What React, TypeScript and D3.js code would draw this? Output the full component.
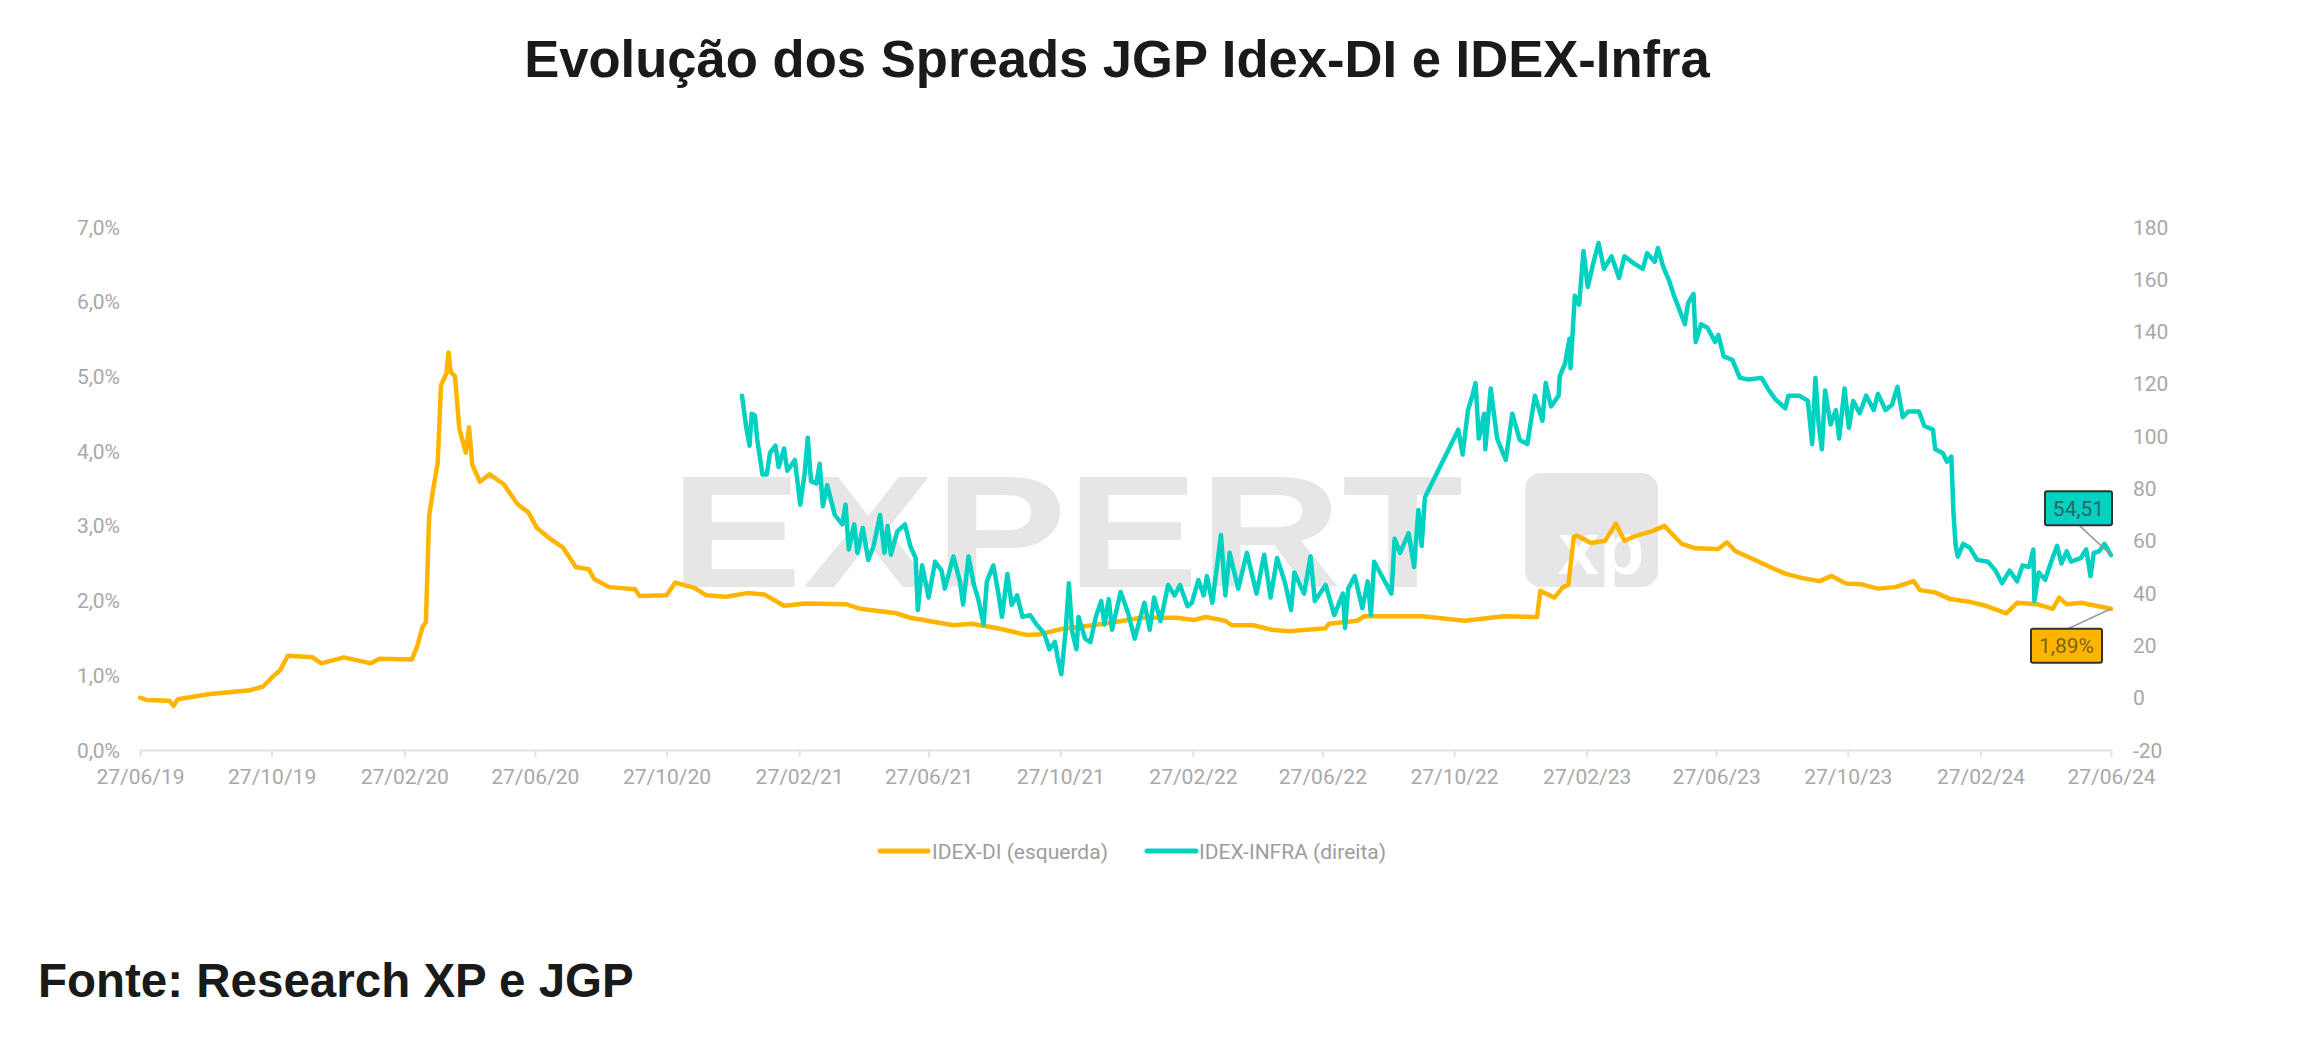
import React, { useEffect, useRef } from "react";
import * as d3 from "d3";

const W = 2302;
const H = 1038;

const titleText = "Evolução dos Spreads JGP Idex-DI e IDEX-Infra";
const sourceText = "Fonte: Research XP e JGP";
const seriesNames = ["IDEX-DI (esquerda)", "IDEX-INFRA (direita)"];
const seriesColors = ["#FFB500", "#00D1C1"];

const xTickDates = [
  "2019-06-27", "2019-10-27", "2020-02-27", "2020-06-27", "2020-10-27", "2021-02-27",
  "2021-06-27", "2021-10-27", "2022-02-27", "2022-06-27", "2022-10-27", "2023-02-27",
  "2023-06-27", "2023-10-27", "2024-02-27", "2024-06-27",
];
const leftTicks = [0, 1, 2, 3, 4, 5, 6, 7];
const rightTicks = [-20, 0, 20, 40, 60, 80, 100, 120, 140, 160, 180];

const idexDiData: [string, number][] = [
  ["2019-06-27", 0.70], ["2019-07-03", 0.67], ["2019-07-24", 0.66], ["2019-07-28", 0.59], ["2019-08-01", 0.68],
  ["2019-08-31", 0.75], ["2019-10-07", 0.80], ["2019-10-19", 0.85], ["2019-10-28", 0.98], ["2019-11-04", 1.07],
  ["2019-11-11", 1.26], ["2019-12-04", 1.24], ["2019-12-12", 1.16], ["2020-01-02", 1.24], ["2020-01-27", 1.16],
  ["2020-02-04", 1.22], ["2020-03-05", 1.21], ["2020-03-10", 1.39], ["2020-03-15", 1.65], ["2020-03-18", 1.71],
  ["2020-03-21", 3.13], ["2020-03-25", 3.51], ["2020-03-29", 3.85], ["2020-04-01", 4.88], ["2020-04-06", 5.04],
  ["2020-04-08", 5.32], ["2020-04-10", 5.06], ["2020-04-14", 5.00], ["2020-04-18", 4.30], ["2020-04-24", 3.98],
  ["2020-04-27", 4.32], ["2020-04-30", 3.82], ["2020-05-07", 3.59], ["2020-05-16", 3.69], ["2020-05-29", 3.56],
  ["2020-06-11", 3.29], ["2020-06-21", 3.18], ["2020-06-29", 2.97], ["2020-07-10", 2.84], ["2020-07-23", 2.71],
  ["2020-08-04", 2.45], ["2020-08-16", 2.42], ["2020-08-21", 2.29], ["2020-09-04", 2.18], ["2020-09-28", 2.15],
  ["2020-10-02", 2.06], ["2020-10-27", 2.07], ["2020-11-04", 2.24], ["2020-11-22", 2.17], ["2020-12-03", 2.07],
  ["2020-12-21", 2.05], ["2021-01-10", 2.10], ["2021-01-26", 2.08], ["2021-02-13", 1.93], ["2021-03-05", 1.96],
  ["2021-04-12", 1.95], ["2021-04-25", 1.89], ["2021-05-28", 1.83], ["2021-06-10", 1.77], ["2021-07-20", 1.67],
  ["2021-08-06", 1.69], ["2021-08-30", 1.63], ["2021-09-26", 1.54], ["2021-10-09", 1.55], ["2021-10-28", 1.62],
  ["2021-12-07", 1.69], ["2022-01-10", 1.77], ["2022-02-12", 1.77], ["2022-02-28", 1.74], ["2022-03-11", 1.78],
  ["2022-03-29", 1.73], ["2022-04-04", 1.67], ["2022-04-24", 1.67], ["2022-05-11", 1.61], ["2022-05-27", 1.59],
  ["2022-06-30", 1.63], ["2022-07-03", 1.69], ["2022-07-29", 1.73], ["2022-08-05", 1.79], ["2022-09-28", 1.79],
  ["2022-11-06", 1.73], ["2022-12-12", 1.79], ["2023-01-12", 1.78], ["2023-01-15", 2.13], ["2023-01-28", 2.04],
  ["2023-02-05", 2.18], ["2023-02-10", 2.21], ["2023-02-15", 2.85], ["2023-02-18", 2.87], ["2023-03-03", 2.77],
  ["2023-03-16", 2.80], ["2023-03-26", 3.03], ["2023-04-03", 2.80], ["2023-04-14", 2.87], ["2023-04-29", 2.93],
  ["2023-05-10", 3.00], ["2023-05-26", 2.76], ["2023-06-08", 2.70], ["2023-06-29", 2.69], ["2023-07-07", 2.78],
  ["2023-07-15", 2.66], ["2023-07-29", 2.57], ["2023-08-16", 2.45], ["2023-08-30", 2.36], ["2023-09-15", 2.30],
  ["2023-10-01", 2.26], ["2023-10-12", 2.33], ["2023-10-25", 2.23], ["2023-11-08", 2.22], ["2023-11-24", 2.16],
  ["2023-12-10", 2.18], ["2023-12-27", 2.26], ["2024-01-02", 2.14], ["2024-01-16", 2.11], ["2024-01-30", 2.02],
  ["2024-02-18", 1.98], ["2024-03-03", 1.93], ["2024-03-22", 1.83], ["2024-04-01", 1.97], ["2024-04-20", 1.95],
  ["2024-05-04", 1.89], ["2024-05-10", 2.04], ["2024-05-17", 1.95], ["2024-05-30", 1.97], ["2024-06-13", 1.93],
  ["2024-06-27", 1.89],
];

const idexInfraData: [string, number][] = [
  ["2021-01-05", 115.5], ["2021-01-09", 103.2], ["2021-01-12", 96.4], ["2021-01-14", 108.6], ["2021-01-17", 107.9],
  ["2021-01-19", 99.1], ["2021-01-24", 85.4], ["2021-01-28", 85.4], ["2021-01-31", 93.6], ["2021-02-05", 96.4],
  ["2021-02-08", 88.2], ["2021-02-13", 95.3], ["2021-02-16", 86.8], ["2021-02-23", 90.9], ["2021-02-28", 73.8],
  ["2021-03-04", 85.4], ["2021-03-07", 99.4], ["2021-03-10", 82.7], ["2021-03-15", 82.0], ["2021-03-18", 89.5],
  ["2021-03-21", 73.2], ["2021-03-25", 81.3], ["2021-04-01", 69.9], ["2021-04-08", 66.3], ["2021-04-11", 73.8],
  ["2021-04-14", 56.7], ["2021-04-19", 66.3], ["2021-04-22", 55.4], ["2021-04-27", 64.9], ["2021-05-02", 52.7],
  ["2021-05-07", 58.0], ["2021-05-13", 69.9], ["2021-05-17", 55.4], ["2021-05-20", 65.7], ["2021-05-23", 54.7],
  ["2021-05-29", 63.6], ["2021-06-05", 66.3], ["2021-06-10", 58.0], ["2021-06-15", 53.4], ["2021-06-17", 33.5],
  ["2021-06-21", 50.6], ["2021-06-27", 38.3], ["2021-07-03", 52.0], ["2021-07-09", 48.6], ["2021-07-12", 41.7],
  ["2021-07-20", 54.0], ["2021-07-26", 44.5], ["2021-07-29", 35.6], ["2021-08-03", 54.0], ["2021-08-08", 43.1],
  ["2021-08-12", 37.7], ["2021-08-17", 28.0], ["2021-08-20", 44.5], ["2021-08-26", 50.6], ["2021-08-31", 39.1],
  ["2021-09-03", 30.9], ["2021-09-08", 47.3], ["2021-09-12", 35.5], ["2021-09-17", 39.1], ["2021-09-22", 30.9],
  ["2021-09-29", 31.6], ["2021-10-05", 28.0], ["2021-10-12", 24.7], ["2021-10-17", 18.5], ["2021-10-22", 21.3],
  ["2021-10-25", 14.4], ["2021-10-28", 9.0], ["2021-11-01", 25.4], ["2021-11-04", 43.8], ["2021-11-07", 25.4],
  ["2021-11-11", 18.5], ["2021-11-13", 30.9], ["2021-11-19", 22.6], ["2021-11-24", 21.3], ["2021-11-29", 30.9],
  ["2021-12-04", 37.0], ["2021-12-07", 28.0], ["2021-12-11", 37.7], ["2021-12-14", 26.0], ["2021-12-22", 40.4],
  ["2021-12-29", 32.3], ["2022-01-04", 22.6], ["2022-01-13", 36.3], ["2022-01-18", 26.0], ["2022-01-22", 38.3],
  ["2022-01-28", 29.3], ["2022-02-04", 43.1], ["2022-02-10", 39.1], ["2022-02-15", 43.1], ["2022-02-22", 35.0],
  ["2022-02-26", 36.3], ["2022-03-04", 45.0], ["2022-03-09", 39.1], ["2022-03-12", 46.5], ["2022-03-17", 36.3],
  ["2022-03-25", 62.2], ["2022-03-29", 39.1], ["2022-04-02", 55.4], ["2022-04-10", 41.7], ["2022-04-18", 55.4],
  ["2022-04-27", 39.8], ["2022-05-04", 54.7], ["2022-05-10", 38.3], ["2022-05-16", 53.4], ["2022-05-23", 44.5],
  ["2022-05-29", 33.5], ["2022-06-01", 47.9], ["2022-06-10", 39.8], ["2022-06-16", 54.0], ["2022-06-20", 37.0],
  ["2022-06-30", 43.1], ["2022-07-08", 31.6], ["2022-07-16", 39.8], ["2022-07-18", 26.7], ["2022-07-21", 41.7],
  ["2022-07-27", 46.5], ["2022-08-03", 34.2], ["2022-08-08", 44.5], ["2022-08-11", 31.6], ["2022-08-14", 52.0],
  ["2022-08-23", 45.1], ["2022-08-30", 39.8], ["2022-09-02", 60.8], ["2022-09-07", 55.4], ["2022-09-15", 62.9],
  ["2022-09-20", 50.0], ["2022-09-24", 71.8], ["2022-09-27", 58.0], ["2022-09-30", 76.6], ["2022-10-31", 102.5],
  ["2022-11-04", 93.0], ["2022-11-09", 110.0], ["2022-11-13", 115.5], ["2022-11-16", 120.3], ["2022-11-19", 99.1],
  ["2022-11-24", 108.6], ["2022-11-25", 95.0], ["2022-11-30", 118.2], ["2022-12-06", 99.1], ["2022-12-14", 90.9],
  ["2022-12-20", 108.6], ["2022-12-27", 98.5], ["2023-01-03", 97.0], ["2023-01-10", 115.5], ["2023-01-17", 105.9],
  ["2023-01-20", 120.3], ["2023-01-25", 111.4], ["2023-02-01", 115.5], ["2023-02-02", 123.0], ["2023-02-07", 127.8],
  ["2023-02-11", 137.3], ["2023-02-12", 126.0], ["2023-02-16", 153.7], ["2023-02-20", 150.3], ["2023-02-24", 170.8],
  ["2023-02-28", 157.1], ["2023-03-05", 166.0], ["2023-03-10", 173.9], ["2023-03-15", 164.0], ["2023-03-22", 168.8],
  ["2023-03-29", 160.5], ["2023-04-03", 168.8], ["2023-04-12", 166.0], ["2023-04-20", 164.0], ["2023-04-24", 170.0],
  ["2023-05-01", 166.7], ["2023-05-04", 172.0], ["2023-05-09", 164.7], ["2023-05-14", 159.9], ["2023-05-19", 153.7],
  ["2023-05-24", 148.3], ["2023-05-29", 142.8], ["2023-06-01", 151.0], ["2023-06-06", 154.4], ["2023-06-08", 136.0],
  ["2023-06-13", 142.8], ["2023-06-19", 141.5], ["2023-06-26", 136.0], ["2023-06-29", 138.7], ["2023-07-04", 130.5],
  ["2023-07-12", 129.2], ["2023-07-19", 122.3], ["2023-07-27", 121.7], ["2023-08-08", 122.3], ["2023-08-15", 117.5],
  ["2023-08-21", 114.1], ["2023-08-30", 110.7], ["2023-09-02", 115.5], ["2023-09-12", 115.5], ["2023-09-20", 113.5],
  ["2023-09-24", 97.0], ["2023-09-27", 122.3], ["2023-09-30", 104.5], ["2023-10-03", 95.0], ["2023-10-06", 117.5],
  ["2023-10-11", 104.5], ["2023-10-16", 110.0], ["2023-10-19", 99.1], ["2023-10-24", 118.2], ["2023-10-28", 103.2],
  ["2023-11-01", 113.5], ["2023-11-07", 108.8], ["2023-11-13", 115.5], ["2023-11-20", 110.0], ["2023-11-24", 116.2],
  ["2023-12-01", 110.0], ["2023-12-07", 112.0], ["2023-12-12", 118.9], ["2023-12-17", 107.3], ["2023-12-22", 109.4],
  ["2024-01-01", 109.4], ["2024-01-06", 103.9], ["2024-01-14", 102.5], ["2024-01-16", 95.0], ["2024-01-23", 93.6],
  ["2024-01-27", 90.2], ["2024-01-31", 92.2], ["2024-02-02", 70.4], ["2024-02-04", 58.1], ["2024-02-06", 54.0],
  ["2024-02-11", 58.8], ["2024-02-17", 57.4], ["2024-02-24", 52.7], ["2024-03-05", 52.0], ["2024-03-12", 48.6],
  ["2024-03-18", 43.8], ["2024-03-25", 48.6], ["2024-04-01", 44.5], ["2024-04-06", 50.6], ["2024-04-12", 50.0],
  ["2024-04-16", 56.7], ["2024-04-17", 37.0], ["2024-04-21", 47.9], ["2024-04-27", 45.1], ["2024-05-02", 51.3],
  ["2024-05-08", 58.1], ["2024-05-12", 51.3], ["2024-05-17", 56.0], ["2024-05-21", 52.0], ["2024-05-30", 53.4],
  ["2024-06-04", 56.7], ["2024-06-08", 46.5], ["2024-06-11", 55.4], ["2024-06-16", 56.0], ["2024-06-21", 58.8],
  ["2024-06-27", 54.51],
];

const parse = d3.timeParse("%Y-%m-%d");
const fmtPt = (v: number, digits: number) => v.toFixed(digits).replace(".", ",");

export default function App() {
  const ref = useRef<SVGSVGElement>(null);

  useEffect(() => {
    document.body.style.margin = "0";
    const svg = d3.select(ref.current as SVGSVGElement);
    svg.selectAll("*").remove();

    const axisFont = "Roboto, 'Noto Sans', sans-serif";
    const headFont = "'Liberation Sans', Arial, Helvetica, sans-serif";

    const x = d3
      .scaleTime()
      .domain([parse(xTickDates[0]) as Date, parse(xTickDates[xTickDates.length - 1]) as Date])
      .range([140, 2111]);
    const yL = d3.scaleLinear().domain([0, 7]).range([750, 227]);
    const yR = d3.scaleLinear().domain([-20, 180]).range([750, 227]);

    svg.append("rect").attr("width", W).attr("height", H).attr("fill", "#ffffff");

    // Title
    svg
      .append("text")
      .attr("x", 1117)
      .attr("y", 77)
      .attr("text-anchor", "middle")
      .attr("font-family", headFont)
      .attr("font-weight", 700)
      .attr("font-size", 52.6)
      .attr("fill", "#1a1a1a")
      .text(titleText);

    // Watermark
    const wm = svg.append("g").attr("class", "watermark");
    wm.append("text")
      .attr("x", 670)
      .attr("y", 587)
      .attr("font-family", headFont)
      .attr("font-weight", 900)
      .attr("font-size", 159)
      .attr("textLength", 793)
      .attr("lengthAdjust", "spacingAndGlyphs")
      .attr("fill", "#e6e6e6")
      .text("EXPERT");
    wm.append("clipPath").attr("id", "xpclip").append("rect")
      .attr("x", 1525).attr("y", 473).attr("width", 133).attr("height", 114).attr("rx", 16);
    wm.append("rect")
      .attr("x", 1525).attr("y", 473).attr("width", 133).attr("height", 114).attr("rx", 16)
      .attr("fill", "#e6e6e6");
    wm.append("text")
      .attr("x", 1558)
      .attr("y", 574)
      .attr("clip-path", "url(#xpclip)")
      .attr("font-family", headFont)
      .attr("font-weight", 700)
      .attr("font-size", 74)
      .attr("fill", "#ffffff")
      .text("xp");

    // X axis
    const xAxis = d3
      .axisBottom(x)
      .tickValues(xTickDates.map((d) => parse(d) as Date))
      .tickFormat((d) => d3.timeFormat("%d/%m/%y")(d as Date))
      .tickSize(7)
      .tickSizeOuter(0)
      .tickPadding(12);
    const gx = svg.append("g").attr("transform", "translate(0,750)").call(xAxis);
    gx.select(".domain").attr("stroke", "#e2e2e2").attr("stroke-width", 2);
    gx.selectAll(".tick line").attr("stroke", "#e2e2e2").attr("stroke-width", 2);
    gx.selectAll(".tick text")
      .attr("font-family", axisFont)
      .attr("font-size", 21)
      .attr("fill", "#a8a8a8");

    // Left axis labels
    svg
      .append("g")
      .selectAll("text")
      .data(leftTicks)
      .join("text")
      .attr("x", 120)
      .attr("y", (d) => yL(d))
      .attr("dy", "0.36em")
      .attr("text-anchor", "end")
      .attr("font-family", axisFont)
      .attr("font-size", 21)
      .attr("fill", "#a8a8a8")
      .text((d) => fmtPt(d, 1) + "%");

    // Right axis labels
    svg
      .append("g")
      .selectAll("text")
      .data(rightTicks)
      .join("text")
      .attr("x", 2133)
      .attr("y", (d) => yR(d))
      .attr("dy", "0.36em")
      .attr("text-anchor", "start")
      .attr("font-family", axisFont)
      .attr("font-size", 21)
      .attr("fill", "#a8a8a8")
      .text((d) => String(d));

    // Lines
    const diPts = idexDiData.map(([d, v]) => ({ date: parse(d) as Date, v }));
    const infraPts = idexInfraData.map(([d, v]) => ({ date: parse(d) as Date, v }));

    const lineL = d3
      .line<{ date: Date; v: number }>()
      .x((p) => x(p.date))
      .y((p) => yL(p.v));
    const lineR = d3
      .line<{ date: Date; v: number }>()
      .x((p) => x(p.date))
      .y((p) => yR(p.v));

    svg
      .append("path")
      .datum(diPts)
      .attr("d", lineL)
      .attr("fill", "none")
      .attr("stroke", seriesColors[0])
      .attr("stroke-width", 4.5)
      .attr("stroke-linejoin", "round")
      .attr("stroke-linecap", "round");

    svg
      .append("path")
      .datum(infraPts)
      .attr("d", lineR)
      .attr("fill", "none")
      .attr("stroke", seriesColors[1])
      .attr("stroke-width", 4.5)
      .attr("stroke-linejoin", "round")
      .attr("stroke-linecap", "round");

    // End value callouts
    const lastDi = diPts[diPts.length - 1];
    const lastInfra = infraPts[infraPts.length - 1];
    const pDi = [x(lastDi.date), yL(lastDi.v)];
    const pInfra = [x(lastInfra.date), yR(lastInfra.v)];

    const callouts = [
      {
        px: pInfra[0], py: pInfra[1], bx: pInfra[0] - 66, by: pInfra[1] - 64, bw: 67, bh: 34,
        lx: pInfra[0] - 32, ly: pInfra[1] - 30, fill: seriesColors[1], tc: "#2e6662",
        text: fmtPt(lastInfra.v, 2),
      },
      {
        px: pDi[0], py: pDi[1], bx: pDi[0] - 80, by: pDi[1] + 20, bw: 71, bh: 34,
        lx: pDi[0] - 43, ly: pDi[1] + 20, fill: seriesColors[0], tc: "#7d6410",
        text: fmtPt(lastDi.v, 2) + "%",
      },
    ];
    const cg = svg.append("g");
    callouts.forEach((c) => {
      cg.append("line")
        .attr("x1", c.lx).attr("y1", c.ly).attr("x2", c.px).attr("y2", c.py)
        .attr("stroke", "#9a9a9a").attr("stroke-width", 1.5);
      cg.append("rect")
        .attr("x", c.bx).attr("y", c.by).attr("width", c.bw).attr("height", c.bh).attr("rx", 2)
        .attr("fill", c.fill).attr("stroke", "#333333").attr("stroke-width", 2);
      cg.append("text")
        .attr("x", c.bx + c.bw / 2).attr("y", c.by + c.bh / 2).attr("dy", "0.36em")
        .attr("text-anchor", "middle")
        .attr("font-family", axisFont).attr("font-size", 21).attr("fill", c.tc)
        .text(c.text);
    });

    // Legend
    const legend = [
      { x0: 880, x1: 928, tx: 932 },
      { x0: 1147, x1: 1196, tx: 1199 },
    ];
    const lg = svg.append("g");
    legend.forEach((l, i) => {
      lg.append("line")
        .attr("x1", l.x0).attr("x2", l.x1).attr("y1", 851).attr("y2", 851)
        .attr("stroke", seriesColors[i]).attr("stroke-width", 5).attr("stroke-linecap", "round");
      lg.append("text")
        .attr("x", l.tx).attr("y", 851).attr("dy", "0.36em")
        .attr("font-family", axisFont).attr("font-size", 21).attr("fill", "#9d9d9d")
        .text(seriesNames[i]);
    });

    // Source
    svg
      .append("text")
      .attr("x", 38)
      .attr("y", 997)
      .attr("font-family", headFont)
      .attr("font-weight", 700)
      .attr("font-size", 47.5)
      .attr("fill", "#1a1a1a")
      .text(sourceText);
  }, []);

  return <svg ref={ref} width={W} height={H} style={{ display: "block" }} />;
}
